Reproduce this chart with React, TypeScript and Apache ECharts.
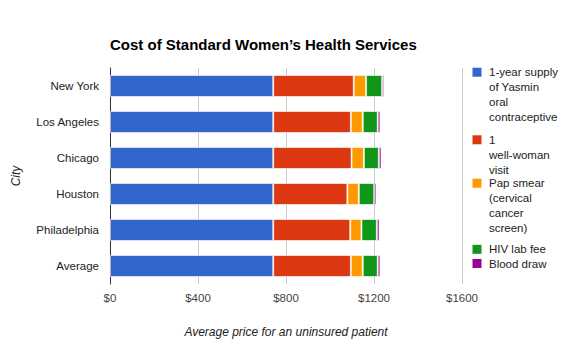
import React, { useEffect, useRef } from "react";
import * as echarts from "echarts";

const categories = ["New York", "Los Angeles", "Chicago", "Houston", "Philadelphia", "Average"];
const seriesNames = [
  "1-year supply of Yasmin oral contraceptive",
  "1 well-woman visit",
  "Pap smear (cervical cancer screen)",
  "HIV lab fee",
  "Blood draw",
];
const legendLines = [
  ["1-year supply", "of Yasmin", "oral", "contraceptive"],
  ["1", "well-woman", "visit"],
  ["Pap smear", "(cervical", "cancer", "screen)"],
  ["HIV lab fee"],
  ["Blood draw"],
];
const yasmin = [742, 742, 742, 742, 742, 742];
const wellWoman = [366, 353, 356, 337, 350, 353];
const papSmear = [56, 54, 56, 52, 51, 54];
const hivLab = [73, 68, 68, 70, 70, 68];
const bloodDraw = [9, 12, 12, 10, 12, 12];
const xTicks = [0, 400, 800, 1200, 1600];
const colors = ["#3366cc", "#dc3912", "#ff9900", "#109618", "#990099"];

const FONT = "'Liberation Sans', Arial, sans-serif";
const LEGEND_TOPS = [66.2, 133.8, 177.2, 243.3, 257.5];

export default function App() {
  const ref = useRef<HTMLDivElement>(null);
  useEffect(() => {
    if (!ref.current) return;
    const chart = echarts.init(ref.current, null, { renderer: "svg" });
    const values = [yasmin, wellWoman, papSmear, hivLab, bloodDraw];
    const rich: Record<string, any> = {
      t: { fontSize: 11.5, fontFamily: FONT, color: "#222", lineHeight: 15 },
      g: { width: 7.5, height: 9, lineHeight: 15 },
      s: { width: 16.5, height: 9, lineHeight: 15 },
    };
    colors.forEach((c, i) => {
      rich["b" + i] = { width: 9, height: 9, backgroundColor: c, lineHeight: 15, verticalAlign: "middle" };
    });
    const legends = seriesNames.map((name, i) => ({
      orient: "vertical",
      left: 467.5,
      top: LEGEND_TOPS[i],
      padding: 0,
      itemGap: 0,
      itemWidth: 0,
      itemHeight: 0,
      icon: "rect",
      itemStyle: { borderWidth: 0 },
      selectedMode: false,
      data: [name],
      textStyle: { fontFamily: FONT, fontSize: 11.5, color: "#222", rich },
      formatter: () =>
        legendLines[i]
          .map((l, k) => (k === 0 ? `{b${i}|}{g|}{t|${l}}` : `{s|}{t|${l}}`))
          .join("\n"),
    }));
    chart.setOption({
      animation: false,
      color: colors,
      title: {
        text: "Cost of Standard Women\u2019s Health Services",
        left: 110,
        top: 37,
        padding: 0,
        textStyle: { fontFamily: FONT, fontSize: 15, fontWeight: "bold", color: "#000" },
      },
      legend: legends,
      grid: {
        left: 110,
        right: 108,
        top: 68,
        bottom: 68,
        containLabel: false,
        outerBoundsMode: "none",
      },
      xAxis: {
        type: "value",
        min: xTicks[0],
        max: xTicks[xTicks.length - 1],
        interval: 400,
        name: "Average price for an uninsured patient",
        nameLocation: "middle",
        nameGap: 42,
        nameTextStyle: { fontFamily: FONT, fontSize: 12, fontStyle: "italic", color: "#222" },
        axisLine: { show: false },
        axisTick: { show: false },
        axisLabel: {
          margin: 8,
          fontFamily: FONT,
          fontSize: 11.5,
          color: "#444",
          formatter: (v: number) => "$" + v,
        },
        splitLine: { show: true, lineStyle: { color: "#cccccc", width: 1 } },
      },
      yAxis: {
        type: "category",
        data: categories,
        inverse: true,
        name: "City",
        nameLocation: "middle",
        nameGap: 88,
        nameTextStyle: { fontFamily: FONT, fontSize: 12, fontStyle: "italic", color: "#222" },
        axisLine: { show: true, lineStyle: { color: "#333", width: 1 } },
        axisTick: { show: false },
        axisLabel: { margin: 11, fontFamily: FONT, fontSize: 11.5, color: "#222" },
        splitLine: { show: false },
      },
      series: seriesNames.map((n, i) => ({
        name: n,
        type: "bar",
        stack: "total",
        barWidth: 22,
        data: values[i],
        itemStyle: { borderColor: "rgba(255,255,255,0.6)", borderWidth: 1 },
      })),
    });
    return () => chart.dispose();
  }, []);
  return (
    <div
      ref={ref}
      style={{ position: "fixed", left: 0, top: 0, width: 570, height: 352, background: "#fff" }}
    />
  );
}
